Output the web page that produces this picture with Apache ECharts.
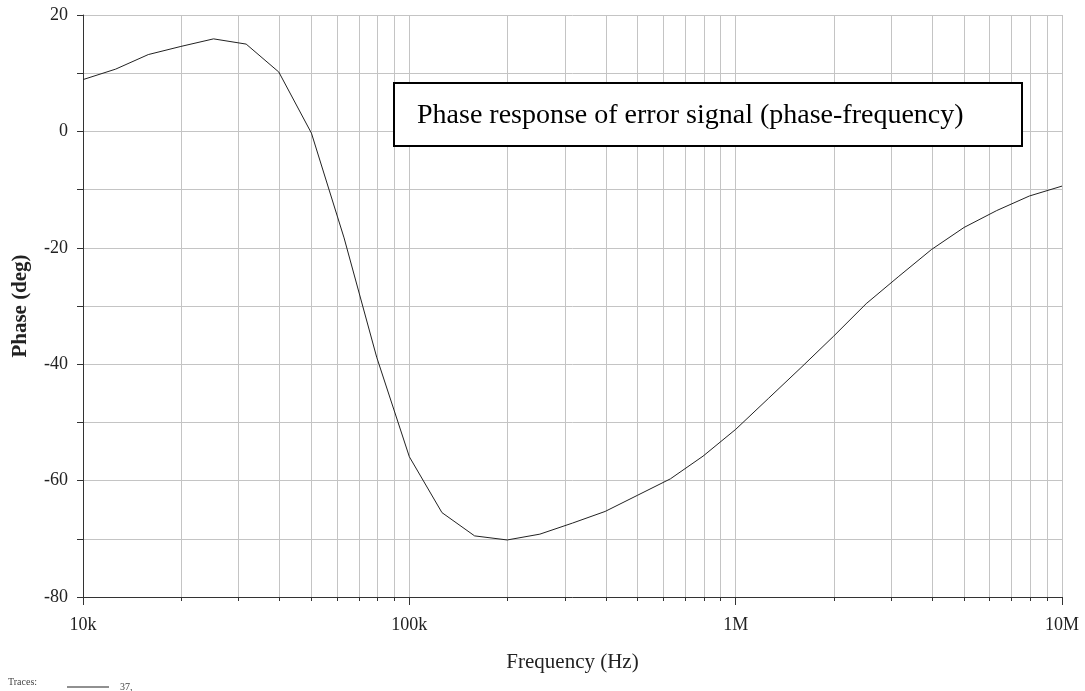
<!DOCTYPE html>
<html>
<head>
<meta charset="utf-8">
<title>Phase response of error signal</title>
<script src="https://cdn.jsdelivr.net/npm/echarts@6/dist/echarts.min.js"></script>
<style>
  html, body { margin: 0; padding: 0; background: #fff; }
  #chart { width: 1085px; height: 691px; }
</style>
</head>
<body>
<div id="chart"></div>
<script>
// Sweep frequencies (Hz), 10 points per decade from 10 kHz to 10 MHz
const frequencies = [
  10000, 12589, 15849, 19953, 25119, 31623, 39811, 50119, 63096, 79433,
  100000, 125893, 158489, 199526, 251189, 316228, 398107, 501187, 630957, 794328,
  1000000, 1258925, 1584893, 1995262, 2511886, 3162278, 3981072, 5011872, 6309573, 7943282,
  10000000
];

// Phase of the error signal (deg) at each frequency
const phaseDeg = [
  8.9, 10.7, 13.2, 14.6, 15.9, 15.0, 10.2, -0.3, -18.3, -38.8,
  -55.9, -65.5, -69.5, -70.2, -69.2, -67.3, -65.3, -62.5, -59.7, -55.8,
  -51.2, -45.9, -40.6, -35.2, -29.6, -24.9, -20.3, -16.5, -13.6, -11.1,
  -9.4
];

// Decade ticks with labels, and the 1..9 gridline positions in each decade
const decadeTicks = [10000, 100000, 1000000, 10000000];
const decadeLabels = ['10k', '100k', '1M', '10M'];
const gridFrequencies = [
  10000, 20000, 30000, 40000, 50000, 60000, 70000, 80000, 90000,
  100000, 200000, 300000, 400000, 500000, 600000, 700000, 800000, 900000,
  1000000, 2000000, 3000000, 4000000, 5000000, 6000000, 7000000, 8000000, 9000000,
  10000000
];
const traceName = '37,';

const serif = '"Liberation Serif", "DejaVu Serif", serif';
const chart = echarts.init(document.getElementById('chart'), null, { renderer: 'canvas' });

const points = frequencies.map((f, i) => [f, phaseDeg[i]]);

chart.setOption({
  animation: false,
  backgroundColor: '#ffffff',
  grid: { left: 83, right: 23, top: 15, bottom: 94, containLabel: false, outerBoundsMode: 'none' },
  xAxis: [
    {
      type: 'log',
      logBase: 10,
      min: 10000,
      max: 10000000,
      name: 'Frequency (Hz)',
      nameLocation: 'middle',
      nameGap: 55,
      nameTextStyle: { fontFamily: serif, fontSize: 21, color: '#222' },
      axisLine: { show: true, onZero: false, lineStyle: { color: '#333', width: 1 } },
      axisTick: { show: true, inside: false, length: 4, customValues: gridFrequencies, lineStyle: { color: '#333' } },
      axisLabel: {
        show: true,
        customValues: decadeTicks,
        margin: 19,
        fontFamily: serif, fontSize: 18, color: '#222',
        formatter: v => {
          const i = decadeTicks.findIndex(d => Math.abs(d - v) / d < 1e-6);
          return i >= 0 ? decadeLabels[i] : '';
        }
      },
      splitLine: { show: true, lineStyle: { color: '#c4c4c4', width: 1 } },
      minorTick: { show: false },
      minorSplitLine: { show: false }
    },
    {
      // longer ticks at each decade along the bottom edge
      type: 'log',
      logBase: 10,
      min: 10000,
      max: 10000000,
      position: 'bottom',
      axisLine: { show: false, onZero: false },
      axisTick: { show: true, length: 8, customValues: decadeTicks, lineStyle: { color: '#333' } },
      axisLabel: { show: false },
      splitLine: { show: false }
    }
  ],
  yAxis: {
    type: 'value',
    min: -80,
    max: 20,
    interval: 10,
    name: 'Phase (deg)',
    nameLocation: 'middle',
    nameGap: 52,
    nameTextStyle: { fontFamily: serif, fontSize: 21, fontWeight: 'bold', color: '#222' },
    axisLine: { show: true, onZero: false, lineStyle: { color: '#333', width: 1 } },
    axisTick: { show: true, inside: false, length: 6, lineStyle: { color: '#333' } },
    axisLabel: {
      margin: 15,
      fontFamily: serif, fontSize: 18, color: '#222',
      formatter: v => (v % 20 === 0 ? String(v) : '')
    },
    splitLine: { show: true, lineStyle: { color: '#c4c4c4', width: 1 } }
  },
  legend: {
    left: 62,
    top: 677,
    itemWidth: 42,
    itemHeight: 1,
    icon: 'rect',
    textStyle: { fontFamily: serif, fontSize: 10, color: '#444', padding: [0, 0, 0, 6] },
    data: [traceName]
  },
  graphic: [
    {
      type: 'text',
      left: 8,
      top: 677,
      z: 100,
      style: { text: 'Traces:', font: '10px ' + serif, fill: '#444' }
    },
    {
      type: 'group',
      left: 393,
      top: 82,
      z: 100,
      children: [
        {
          type: 'rect',
          z: 100,
          shape: { x: 0, y: 0, width: 628, height: 63 },
          style: { fill: '#ffffff', stroke: '#000000', lineWidth: 2 }
        },
        {
          type: 'text',
          z: 101,
          x: 23,
          y: 33,
          style: {
            text: 'Phase response of error signal (phase-frequency)',
            font: '28px ' + serif,
            fill: '#000',
            verticalAlign: 'middle'
          }
        }
      ]
    }
  ],
  series: [
    {
      name: traceName,
      type: 'line',
      xAxisIndex: 0,
      data: points,
      showSymbol: false,
      symbol: 'none',
      smooth: false,
      lineStyle: { color: '#222', width: 1 },
      itemStyle: { color: '#222' }
    }
  ]
});
</script>
</body>
</html>
